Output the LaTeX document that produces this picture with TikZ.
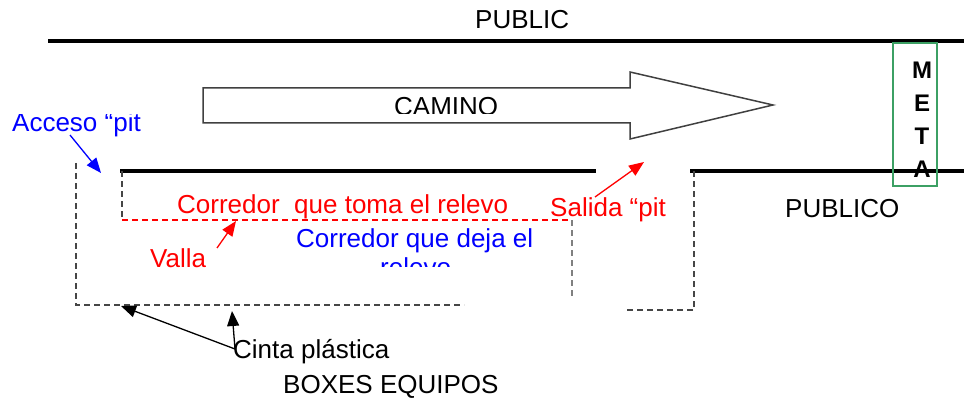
\documentclass[tikz,border=0pt]{standalone}
\usepackage{fontspec}
\setmainfont{Liberation Sans}
\usetikzlibrary{arrows.meta}
\definecolor{metagreen}{RGB}{60,160,100}
\definecolor{tapegray}{RGB}{70,70,70}
\begin{document}
\begin{tikzpicture}[x=1pt,y=-1pt,
  lbl/.style={font=\fontsize{26}{30}\selectfont, inner sep=0pt, anchor=base west},
  metaletter/.style={font=\fontsize{24}{28}\selectfont\bfseries, inner sep=0pt, anchor=base},
  road/.style={line width=4.5pt},
  tape/.style={line width=1.5pt, dash pattern=on 6pt off 4pt, draw=tapegray},
  fence/.style={line width=1.5pt, dash pattern=on 6pt off 4pt, draw=red},
  ptr/.style={line width=1.3pt, -{Triangle[length=15pt,width=12pt]}},
  bigarrow/.style={line width=1.5pt, draw=black!75, fill=white},
]
\useasboundingbox (0,0) rectangle (964,401);

% texts
\node[lbl] (public) at (475,29) {PUBLIC};
\begin{scope}
  \clip (0,115) rectangle (170,145);
  \node[lbl, text=blue] (acceso) at (12,132) {Acceso “pit};
\end{scope}
\node[lbl, text=red] (toma) at (177,213) {Corredor\ \ que toma el relevo};
\node[lbl, text=red] (salida) at (550,216) {Salida “pit};
\node[lbl, text=blue] (deja) at (296,247) {Corredor que deja el};
\begin{scope}
  \clip (300,250) rectangle (470,266);
  \node[lbl, text=blue] (relevo) at (380,276) {relevo};
\end{scope}
\node[lbl, text=red] (valla) at (150,267) {Valla};
\node[lbl] (publico) at (785,217) {PUBLICO};
\node[lbl] (cinta) at (233,358) {Cinta plástica};
\node[lbl] (boxes) at (283,393) {BOXES EQUIPOS};

% big arrow CAMINO
\draw[bigarrow] (203,88) -- (630,88) -- (630,72) -- (773,105) -- (630,139) -- (630,123) -- (203,123) -- cycle;
\begin{scope}
  \clip (210,90) rectangle (620,114);
  \node[lbl] (camino) at (394,116) {CAMINO};
\end{scope}

% META letters
\node[metaletter] (m) at (922,79) {M};
\node[metaletter] (e) at (922,112) {E};
\node[metaletter] (t) at (922,145) {T};
\node[metaletter] (a) at (922,178) {A};

% coordinates
\coordinate (topL) at (48,41);
\coordinate (topR) at (964,41);
\coordinate (midL) at (120,171);
\coordinate (midM) at (596,171);
\coordinate (midR0) at (690,171);
\coordinate (midR) at (964,171);
\coordinate (vallaTop) at (122,171);
\coordinate (vallaCorner) at (122,220);
\coordinate (vallaEnd) at (568,220);
\coordinate (grayTop) at (572,220);
\coordinate (grayBot) at (572,298);
\coordinate (boxTop) at (76,163);
\coordinate (boxCorner) at (76,305);
\coordinate (boxEnd) at (464,305);
\coordinate (pitTop) at (694,171);
\coordinate (pitCorner) at (694,310);
\coordinate (pitEnd) at (625,310);
\coordinate (accTip) at (101,173);
\coordinate (accTail) at (70,135);
\coordinate (valTail) at (217,248);
\coordinate (valTip) at (236,221);
\coordinate (salTail) at (595,197);
\coordinate (salTip) at (644,162);
\coordinate (cinTail) at (235,349);
\coordinate (cinTip1) at (121,306);
\coordinate (cinTip2) at (232,311);

% roads
\draw[road] (topL) -- (topR);
\draw[road] (midL) -- (midM);
\draw[road] (midR0) -- (midR);

% fences and tapes
\draw[tape] (vallaTop) -- (vallaCorner);
\draw[fence] (vallaCorner) -- (vallaEnd);
\draw[tape, draw=gray] (grayTop) -- (grayBot);
\draw[tape] (boxTop) -- (boxCorner) -- (boxEnd);
\draw[tape] (pitTop) -- (pitCorner) -- (pitEnd);

% META box
\node[draw=metagreen, line width=1.2pt, minimum width=44pt, minimum height=143pt, inner sep=0pt] (metabox) at (915,114.5) {};

% pointers
\draw[ptr, blue] (accTail) -- (accTip);
\draw[ptr, red] (valTail) -- (valTip);
\draw[ptr, red] (salTail) -- (salTip);
\draw[ptr, black] (cinTail) -- (cinTip1);
\draw[ptr, black] (cinTail) -- (cinTip2);
\end{tikzpicture}
\end{document}
